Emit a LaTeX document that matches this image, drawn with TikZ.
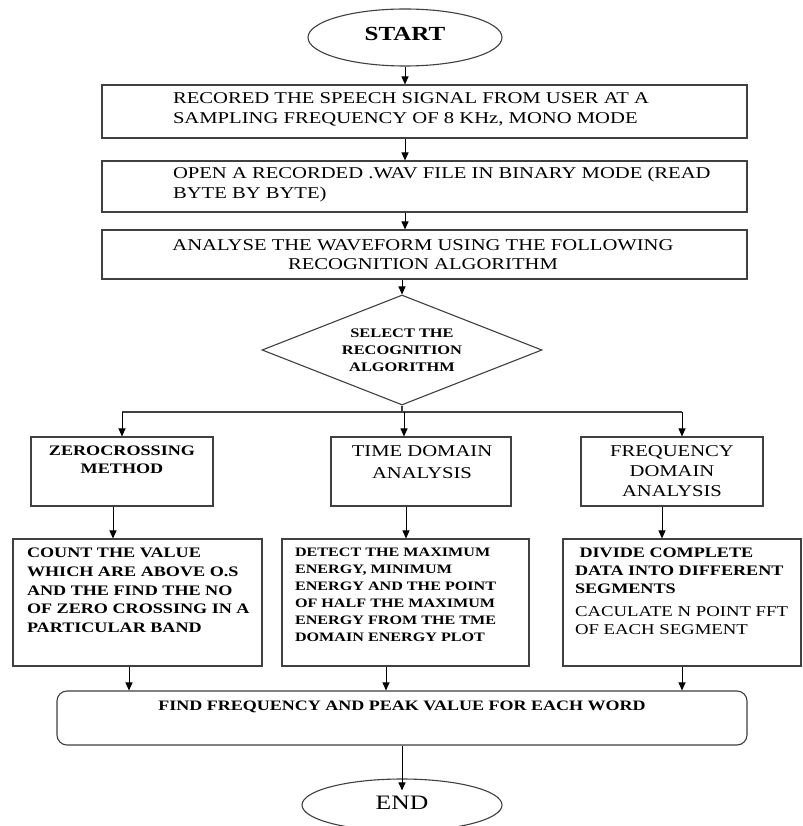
\documentclass[tikz,border=0pt]{standalone}
\usepackage{fontspec}
\setmainfont{Liberation Serif}[FakeStretch=1.25]
\usetikzlibrary{shapes.geometric,arrows.meta}
\tikzset{
  boxline/.style={draw=black!75, line width=1.1pt},
  stepbox/.style={boxline, rectangle, inner sep=0pt},
  arr/.style={draw=black, line width=1pt, -{Triangle[length=8pt,width=7pt]}},
  ln/.style={draw=black!75, line width=1.1pt},
  txt/.style={inner sep=0pt, outer sep=0pt},
}
\newcommand{\fs}[2]{\fontsize{#1}{#2}\selectfont}
\begin{document}
\begin{tikzpicture}[x=1pt,y=-1pt]
\clip (0,0) rectangle (802,826);
\fill[white] (0,0) rectangle (802,826);
% start
\node[boxline, ellipse, minimum width=194pt, minimum height=57pt, inner sep=0pt, text depth=8pt, font={\fs{20}{24}\bfseries}] (start) at (405,37.5) {START};
% box 1
\node[stepbox, minimum width=645pt, minimum height=53pt] (b1) at (424.5,111.5) {};
\node[txt, anchor=north west, align=left, font={\fs{16.5}{20}}] (t1) at (173,92.5) {RECORED THE SPEECH SIGNAL FROM USER AT A\\SAMPLING FREQUENCY OF 8 KHz, MONO MODE};
% box 2
\node[stepbox, minimum width=645pt, minimum height=51pt] (b2) at (424.5,186.5) {};
\node[txt, anchor=north west, align=left, font={\fs{16.5}{20}}] (t2) at (173,167.5) {OPEN A RECORDED .WAV FILE IN BINARY MODE (READ\\BYTE BY BYTE)};
% box 3
\node[stepbox, minimum width=645pt, minimum height=49pt] (b3) at (424.5,254.5) {};
\node[txt, anchor=north, align=center, font={\fs{16.5}{19}}] (t3) at (423,239.5) {ANALYSE THE WAVEFORM USING THE FOLLOWING\\RECOGNITION ALGORITHM};
% diamond
\node[boxline, diamond, aspect=2.545, minimum width=280pt, minimum height=110pt, inner sep=0pt, align=center, font={\fs{13.1}{17}\bfseries}] (dec) at (402,350) {SELECT THE\\RECOGNITION\\ALGORITHM};
% branch
\coordinate (brl) at (122,412);
\coordinate (brm) at (404,412);
\coordinate (brr) at (682,412);
% upper boxes
\node[stepbox, minimum width=182pt, minimum height=69pt] (zc) at (122,471.5) {};
\node[txt, anchor=north, align=center, font={\fs{14.5}{18}\bfseries}] (tzc) at (122,446) {ZEROCROSSING\\METHOD};
\node[stepbox, minimum width=180pt, minimum height=69pt] (td) at (421,471.5) {};
\node[txt, anchor=north, align=center, font={\fs{16.5}{22}}] (ttd) at (422,445.5) {TIME DOMAIN\\ANALYSIS};
\node[stepbox, minimum width=182pt, minimum height=69pt] (fd) at (672,471.5) {};
\node[txt, anchor=north, align=center, font={\fs{16.5}{20}}] (tfd) at (672,445.5) {FREQUENCY\\DOMAIN\\ANALYSIS};
% lower boxes
\node[stepbox, minimum width=249pt, minimum height=127pt] (cnt) at (137.5,602.5) {};
\node[txt, anchor=north west, align=left, font={\fs{14.5}{18.75}\bfseries}] (tcnt) at (27,548) {COUNT THE VALUE\\WHICH ARE ABOVE O.S\\AND THE FIND THE NO\\OF ZERO CROSSING IN A\\PARTICULAR BAND};
\node[stepbox, minimum width=247pt, minimum height=127pt] (det) at (405.5,602.5) {};
\node[txt, anchor=north west, align=left, font={\fs{12.9}{17}\bfseries}] (tdet) at (295,547.7) {DETECT THE MAXIMUM\\ENERGY, MINIMUM\\ENERGY AND THE POINT\\OF HALF THE MAXIMUM\\ENERGY FROM THE TME\\DOMAIN ENERGY PLOT};
\node[stepbox, minimum width=238pt, minimum height=127pt] (div) at (682,602.5) {};
\node[txt, anchor=north west, align=left, font={\fs{14.5}{18}\bfseries}] (tdiv) at (575,548) {\ DIVIDE COMPLETE\\DATA INTO DIFFERENT\\SEGMENTS\\[5pt]\mdseries\fs{15}{18}CACULATE N POINT FFT\\\mdseries\fs{15}{18}OF EACH SEGMENT};
% find
\node[boxline, rectangle, rounded corners=10pt, minimum width=690pt, minimum height=54pt, inner sep=0pt] (find) at (402,718) {};
\node[txt, anchor=north, font={\fs{14.4}{18}\bfseries}] (tfind) at (402,701) {FIND FREQUENCY AND PEAK VALUE FOR EACH WORD};
% end
\node[boxline, ellipse, minimum width=200pt, minimum height=52pt, inner sep=0pt, text depth=4pt, font={\fs{20.5}{24}}] (end) at (402,805) {END};
% connectors
\draw[arr] (start.south) -- (start.south |- b1.north);
\draw[arr] (b1.south -| start.south) -- (start.south |- b2.north);
\draw[arr] (b2.south -| start.south) -- (start.south |- b3.north);
\draw[arr] (b3.south -| dec.north) -- (dec.north);
\draw[ln] (dec.south) -- (dec.south |- brm) (brl) -- (brr);
\draw[arr] (brl) -- (brl |- zc.north);
\draw[arr] (brm) -- (brm |- td.north);
\draw[arr] (brr) -- (brr |- fd.north);
\draw[arr] ([xshift=-9pt]zc.south) -- ([xshift=-9pt]zc.south |- cnt.north);
\draw[arr] ([xshift=-15pt]td.south) -- ([xshift=-15pt]td.south |- det.north);
\draw[arr] ([xshift=-10pt]fd.south) -- ([xshift=-10pt]fd.south |- div.north);
\draw[arr] ([xshift=-8.5pt]cnt.south) -- ([xshift=-8.5pt]cnt.south |- find.north);
\draw[arr] ([xshift=-19.5pt]det.south) -- ([xshift=-19.5pt]det.south |- find.north);
\draw[arr] (div.south) -- (div.south |- find.north);
\draw[arr] (find.south) -- ([yshift=-12pt]end.north);
\end{tikzpicture}
\end{document}
